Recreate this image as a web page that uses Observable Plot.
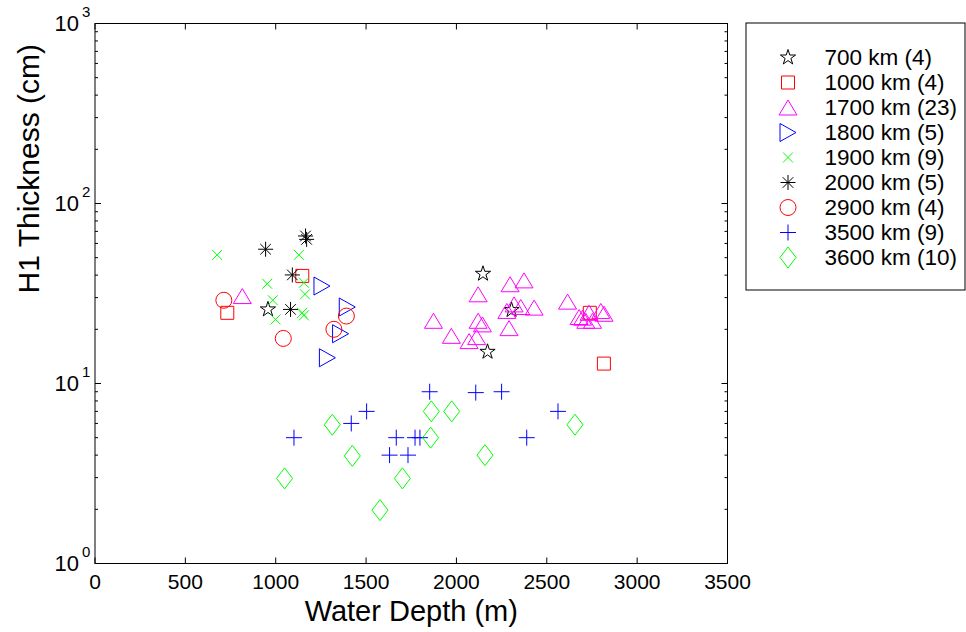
<!DOCTYPE html>
<html><head><meta charset="utf-8">
<script src="https://cdn.jsdelivr.net/npm/d3@7"></script>
<script src="https://cdn.jsdelivr.net/npm/@observablehq/plot@0.6"></script>
<style>
body{margin:0;background:#fff}
#wrap{position:relative;width:966px;height:632px}
#legend{position:absolute;left:745px;top:22px}
</style>
</head><body><div id="wrap"></div>
<script>
// ---- data: [water depth (m), H1 thickness (cm)] ----
const d700  = [[957,25.8],[2147,40.7],[2305,25.6],[2172,15.0]];
const d1000 = [[732,24.7],[1147,39.6],[2738,24.7],[2816,12.9]];
const d1700 = [[815,30.6],[1873,22.3],[1972,18.4],[2070,17.2],[2120,31.3],[2120,22.3],[2144,21.3],[2112,18.1],
               [2297,35.6],[2374,37.4],[2291,20.3],[2279,25.3],[2319,27.5],[2356,26.6],[2430,26.4],[2615,28.5],
               [2679,23.4],[2698,23.2],[2734,24.7],[2753,22.3],[2799,25.3],[2817,24.4],[2716,22.3]];
const d1800 = [[1256,34.8],[1396,26.6],[1359,18.9],[1286,13.9]];
const d1900 = [[676,51.8],[1128,51.8],[953,35.8],[1156,36.3],[984,29.0],[1162,31.3],[999,22.7],[1147,24.7],[1156,23.9]];
const d2000 = [[944,55.7],[1165,66.0],[1171,63.2],[1092,40.1],[1082,25.8]];
const d2900 = [[713,29.0],[1042,17.8],[1322,20.0],[1391,23.7]];
const d3500 = [[1101,5],[1418,6],[1503,7],[1852,9],[1667,5],[1771,5],[1798,5],[1630,4],[1732,4],
               [2107,8.9],[2250,9],[2562,7],[2389,5]];
const d3600 = [[1313,5.9],[1049,2.97],[1424,3.96],[1577,1.98],[1701,2.97],[1861,7],[1974,7],[1857,5.0],[2158,4],[2656,5.9]];

const seriesLabels = ["700 km (4)","1000 km (4)","1700 km (23)","1800 km (5)","1900 km (9)","2000 km (5)","2900 km (4)","3500 km (9)","3600 km (10)"];
const seriesColors = ["#000000","#ff0000","#ff00ff","#0000ff","#00ff00","#000000","#ff0000","#0000ff","#00ff00"];
const seriesData = [d700,d1000,d1700,d1800,d1900,d2000,d2900,d3500,d3600];

const xTicks = [0,500,1000,1500,2000,2500,3000,3500];
const yTicks = [1,10,100,1000];
const yExp = ["0","1","2","3"];
const yMinor = [2,3,4,5,6,7,8,9,20,30,40,50,60,70,80,90,200,300,400,500,600,700,800,900];
const xTitle = "Water Depth (m)";
const yTitle = "H1 Thickness (cm)";

// ---- symbols (pixel-sized, MATLAB-like) ----
const S = {
  star:{draw(c){const R=8,r=R*0.382;for(let i=0;i<10;i++){const a=-Math.PI/2+i*Math.PI/5,rr=i%2?r:R,x=rr*Math.cos(a),y=rr*Math.sin(a);i?c.lineTo(x,y):c.moveTo(x,y);}c.closePath();}},
  square:{draw(c){c.rect(-6.5,-6.5,13,13);}},
  triUp:{draw(c){c.moveTo(0,-7.5);c.lineTo(9,7.5);c.lineTo(-9,7.5);c.closePath();}},
  triRight:{draw(c){c.moveTo(-8,-9);c.lineTo(8,0);c.lineTo(-8,9);c.closePath();}},
  times:{draw(c){c.moveTo(-5,-5);c.lineTo(5,5);c.moveTo(5,-5);c.lineTo(-5,5);}},
  asterisk:{draw(c){const a=7.5,b=5.3;c.moveTo(-a,0);c.lineTo(a,0);c.moveTo(0,-a);c.lineTo(0,a);c.moveTo(-b,-b);c.lineTo(b,b);c.moveTo(b,-b);c.lineTo(-b,b);}},
  circle:{draw(c){c.moveTo(8,0);c.arc(0,0,8,0,2*Math.PI);}},
  plus:{draw(c){c.moveTo(-8,0);c.lineTo(8,0);c.moveTo(0,-8);c.lineTo(0,8);}},
  diamond:{draw(c){c.moveTo(0,-10.5);c.lineTo(8,0);c.lineTo(0,10.5);c.lineTo(-8,0);c.closePath();}}
};
const seriesSymbols = [S.star,S.square,S.triUp,S.triRight,S.times,S.asterisk,S.circle,S.plus,S.diamond];
const tick = (dx,dy)=>({draw(c){c.moveTo(0,0);c.lineTo(dx,dy);}});

const font = "'Liberation Sans', Arial, Helvetica, sans-serif";
const marks = [];
// inward ticks
const tk = (data, opts, sym) => marks.push(Plot.dot(data, {...opts, symbol: sym, stroke:"black", fill:"none", strokeWidth:1}));
tk(xTicks,{x:d=>d,y:()=>1},tick(0,-6));
tk(xTicks,{x:d=>d,y:()=>1000},tick(0,6));
tk(yTicks,{x:()=>0,y:d=>d},tick(6,0));
tk(yTicks,{x:()=>3500,y:d=>d},tick(-6,0));
tk(yMinor,{x:()=>0,y:d=>d},tick(3,0));
tk(yMinor,{x:()=>3500,y:d=>d},tick(-3,0));
marks.push(Plot.frame({stroke:"black", strokeWidth:1}));
// tick labels
marks.push(Plot.text(xTicks,{x:d=>d,y:()=>1,text:d=>String(d),dy:19,fontSize:21,fill:"black",lineAnchor:"middle"}));
marks.push(Plot.text(yTicks,{x:()=>0,y:d=>d,text:()=>"10",dx:-16,fontSize:22,fill:"black",textAnchor:"end",lineAnchor:"middle"}));
marks.push(Plot.text(yTicks,{x:()=>0,y:d=>d,text:(d,i)=>yExp[i],dx:-13,dy:-11,fontSize:15,fill:"black",textAnchor:"start",lineAnchor:"middle"}));
// titles
marks.push(Plot.text([xTitle],{frameAnchor:"bottom",text:d=>d,dy:48,fontSize:29,fill:"black",lineAnchor:"middle"}));
marks.push(Plot.text([yTitle],{frameAnchor:"left",text:d=>d,dx:-66,rotate:-90,fontSize:30,fill:"black",lineAnchor:"middle"}));
// data
seriesData.forEach((data,i)=>{
  marks.push(Plot.dot(data,{x:d=>d[0],y:d=>d[1],symbol:seriesSymbols[i],stroke:seriesColors[i],fill:"none",strokeWidth:1}));
});

const chart = Plot.plot({
  width:966, height:632,
  marginLeft:94.5, marginRight:239, marginTop:23, marginBottom:69,
  x:{domain:[0,3500], axis:null},
  y:{type:"log", domain:[1,1000], axis:null},
  style:{fontFamily:font, background:"white", overflow:"visible"},
  marks
});
document.getElementById("wrap").appendChild(chart);

// legend
const legendRows = seriesLabels.map((label,i)=>({label,i}));
const legend = Plot.plot({
  width:220, height:268, margin:0,
  x:{domain:[0,220], range:[0,220], axis:null},
  y:{type:"point", domain:seriesLabels, range:[19.7,249.7], axis:null},
  style:{fontFamily:font, background:"white", overflow:"visible"},
  marks:[
    Plot.frame({stroke:"black", strokeWidth:1, inset:0.5}),
    ...legendRows.map(r=>Plot.dot([r],{x:()=>42.5,y:d=>d.label,symbol:seriesSymbols[r.i],stroke:seriesColors[r.i],fill:"none",strokeWidth:1})),
    Plot.text(legendRows,{x:()=>79,y:d=>d.label,text:d=>d.label,textAnchor:"start",lineAnchor:"middle",fontSize:22.5,fill:"black"})
  ]
});
legend.id = "legend";
document.getElementById("wrap").appendChild(legend);
</script></body></html>
